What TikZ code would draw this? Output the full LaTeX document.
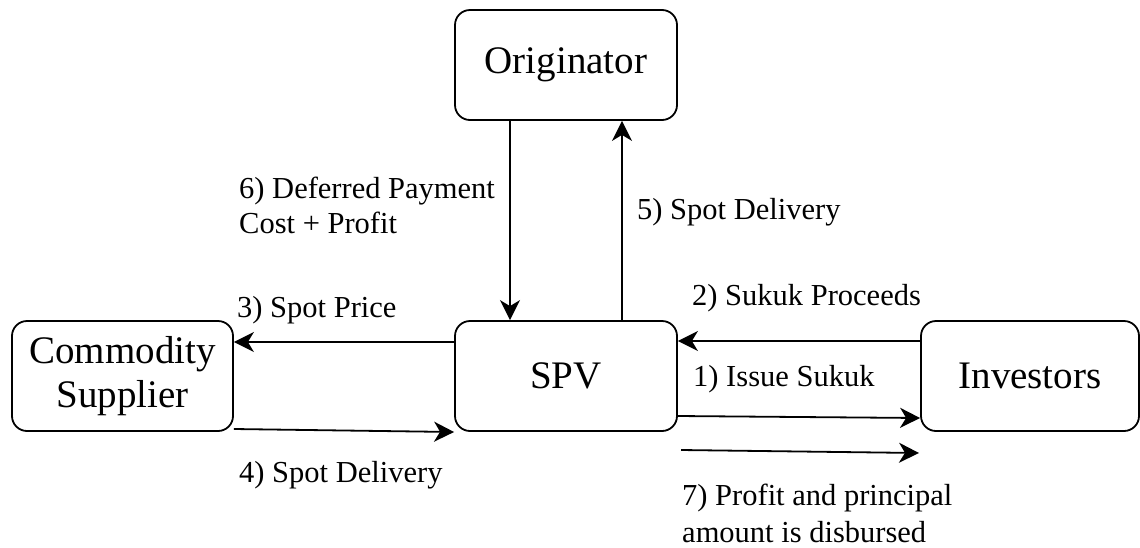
\documentclass[tikz,border=0pt]{standalone}
\usepackage{fontspec}
\setmainfont{Liberation Serif}
\usetikzlibrary{arrows.meta}
\begin{document}
\begin{tikzpicture}[x=1pt,y=-1pt,
  party/.style={draw, line width=1.8pt, rounded corners=15pt, minimum width=222pt,
    minimum height=110pt, inner sep=0pt, align=center,
    font=\fontsize{39}{44}\selectfont},
  flow/.style={line width=1.8pt, -{Stealth[length=20pt,width=20pt,inset=6pt]}},
  tag/.style={anchor=base west, inner sep=0pt, align=left,
    font=\fontsize{30.5}{35}\selectfont}]
\useasboundingbox (0,0) rectangle (1140,547);

% parties
\node[party] (orig) at (566,65) {Originator};
\node[party] (spv) at (566,376) {SPV};
\node[party, minimum width=221pt] (cs) at (122.5,376) {Commodity\\Supplier};
\node[party, minimum width=218pt] (inv) at (1030,376) {Investors};

% flows between the parties
\draw[flow] ([xshift=-56pt]orig.south) -- ([xshift=-56pt]spv.north);
\draw[flow] ([xshift=56pt]spv.north) -- ([xshift=56pt]orig.south);
\draw[flow] ([yshift=35pt]inv.west) -- ([yshift=35pt]spv.east);
\draw[flow] ([yshift=34pt]spv.west) -- ([yshift=34pt]cs.east);
\draw[flow] ([yshift=-53pt]cs.east) -- ([yshift=-56pt]spv.west);
\draw[flow] ([yshift=-40pt]spv.east) -- ([yshift=-42pt]inv.west);
\coordinate (payS) at (681,450);
\coordinate (payE) at (919,453);
\draw[flow] (payS) -- (payE);

% step labels (multi-line labels are placed by their last baseline)
\node[tag] (l6) at (239,233) {6) Deferred Payment\\Cost + Profit};
\node[tag] (l5) at (637,219) {5) Spot Delivery};
\node[tag] (l3) at (237,317) {3) Spot Price};
\node[tag] (l2) at (692,305) {2) Sukuk Proceeds};
\node[tag] (l1) at (693,386) {1) Issue Sukuk};
\node[tag] (l4) at (239,482) {4) Spot Delivery};
\node[tag, font=\fontsize{30.5}{37}\selectfont] (l7) at (682,542) {7) Profit and principal\\amount is disbursed};
\end{tikzpicture}
\end{document}
